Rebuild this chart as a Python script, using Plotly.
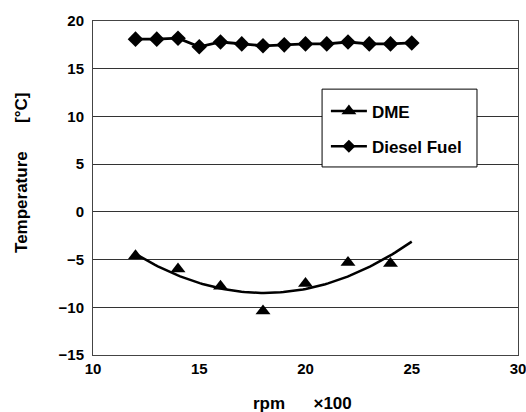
import numpy as np
import plotly.graph_objects as go

rpm_diesel = [12, 13, 14, 15, 16, 17, 18, 19, 20, 21, 22, 23, 24, 25]
temp_diesel = [18.1, 18.1, 18.2, 17.3, 17.8, 17.6, 17.4, 17.5, 17.6, 17.6, 17.8, 17.6, 17.6, 17.7]

rpm_dme = [12, 14, 16, 18, 20, 22, 24]
temp_dme = [-4.6, -6.0, -7.8, -10.4, -7.5, -5.3, -5.4]

# quadratic trendline fitted to DME points, drawn from 12 to 25
coef = np.polyfit(rpm_dme, temp_dme, 2)
trend_x = np.linspace(12, 25, 100)
trend_y = np.polyval(coef, trend_x)

font = "Liberation Sans, Arial, sans-serif"

fig = go.Figure()
fig.add_trace(go.Scatter(x=trend_x, y=trend_y, mode="lines",
                         line=dict(color="black", width=2.5), showlegend=False, hoverinfo="skip"))
fig.add_trace(go.Scatter(x=rpm_dme, y=temp_dme, mode="markers",
                         marker=dict(symbol="triangle-up", size=13, color="black"), showlegend=False))
fig.add_trace(go.Scatter(x=rpm_diesel, y=temp_diesel, mode="lines+markers",
                         line=dict(color="black", width=2.8),
                         marker=dict(symbol="diamond", size=12, color="black"), showlegend=False))
# legend entries
fig.add_trace(go.Scatter(x=[None], y=[None], mode="lines+markers", name="<b>DME</b>",
                         legendgroup="a",
                         line=dict(color="black", width=2.5),
                         marker=dict(symbol="triangle-up", size=13, color="black")))
fig.add_trace(go.Scatter(x=[None], y=[None], mode="lines+markers", name="<b>Diesel Fuel</b>",
                         legendgroup="b",
                         line=dict(color="black", width=2.5),
                         marker=dict(symbol="diamond", size=10, color="black")))

# legend frame
fig.add_shape(type="rect", xref="paper", yref="paper",
              x0=0.539, x1=0.9035, y0=0.563, y1=0.796,
              line=dict(color="black", width=1), fillcolor="white", layer="above")

fig.update_layout(
    width=526, height=412,
    margin=dict(l=93, r=8, t=21, b=57, autoexpand=False),
    paper_bgcolor="white", plot_bgcolor="white",
    font=dict(family=font, size=15, color="black"),
    showlegend=True,
    legend=dict(x=0.548, y=0.783, xanchor="left", yanchor="top",
                borderwidth=0, bgcolor="rgba(0,0,0,0)",
                font=dict(family=font, size=17, color="black"),
                tracegroupgap=10, itemwidth=36),
    xaxis=dict(range=[10, 30], tickvals=[10, 15, 20, 25, 30], showgrid=False,
               showline=True, linecolor="#444", linewidth=1, mirror=True,
               ticks="", tickfont=dict(family=font, size=15, weight="bold"),
               ticklabeloverflow="allow", automargin=False, zeroline=False),
    yaxis=dict(range=[-15, 20], tickvals=[-15, -10, -5, 0, 5, 10, 15, 20],
               showgrid=True, gridcolor="#333", gridwidth=1,
               showline=True, linecolor="#444", linewidth=1, mirror=True,
               ticks="", tickfont=dict(family=font, size=15, weight="bold"),
               ticklabelstandoff=5, automargin=False, zeroline=False),
)

fig.add_annotation(text="<b>rpm</b>      <b>×100</b>", xref="paper", yref="paper",
                   x=0.493, y=-0.144, xanchor="center", yanchor="middle", showarrow=False,
                   font=dict(family=font, size=17))
fig.add_annotation(text="<b>Temperature</b>      <b>[°C]</b>", xref="paper", yref="paper",
                   x=-0.167, y=0.545, xanchor="center", yanchor="middle", showarrow=False,
                   textangle=-90, font=dict(family=font, size=17))

fig.write_html("out.html", config={"displayModeBar": False},
               post_script="document.body.style.margin='0';")
